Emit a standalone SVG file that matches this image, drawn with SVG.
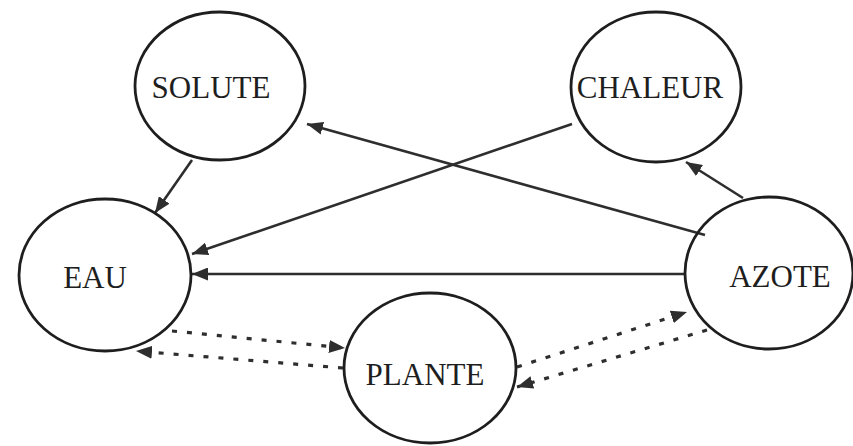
<svg xmlns="http://www.w3.org/2000/svg" width="853" height="446" viewBox="0 0 853 446">
<style>
.node ellipse{fill:none;stroke:#1e1e1e;stroke-width:2.8}
.node text{font-family:"Liberation Serif","Times New Roman",serif;font-size:31px;fill:#1e1e1e;text-anchor:middle}
.edge{fill:none;stroke:#2e2e2e;stroke-width:2.6}
.dot{fill:none;stroke:#2e2e2e;stroke-width:3.2;stroke-dasharray:5 10}
</style>
<defs>
<marker id="ah" markerUnits="userSpaceOnUse" markerWidth="17" markerHeight="13" refX="16" refY="6.5" orient="auto">
<path d="M0,0 L16,6.5 L0,13 z" fill="#2e2e2e"/>
</marker>
</defs>
<rect width="853" height="446" fill="#fff"/>
<g id="connectors">
<line class="edge" x1="192" y1="160" x2="155" y2="213" marker-end="url(#ah)"/>
<line class="edge" x1="572" y1="124" x2="192" y2="254" marker-end="url(#ah)"/>
<line class="edge" x1="705" y1="235" x2="307" y2="124" marker-end="url(#ah)"/>
<line class="edge" x1="743" y1="198" x2="686" y2="162" marker-end="url(#ah)"/>
<line class="edge" x1="685" y1="274" x2="192" y2="274" marker-end="url(#ah)"/>
<line class="dot" x1="172" y1="331" x2="345" y2="348" marker-end="url(#ah)"/>
<line class="dot" x1="343" y1="368" x2="136" y2="351" marker-end="url(#ah)"/>
<line class="dot" x1="517" y1="367" x2="687" y2="312" marker-end="url(#ah)"/>
<line class="dot" x1="707" y1="330" x2="517" y2="387" marker-end="url(#ah)"/>
</g>
<g id="solute" class="node">
<ellipse cx="220" cy="86" rx="85" ry="74"/>
<text x="211" y="98">SOLUTE</text>
</g>
<g id="chaleur" class="node">
<ellipse cx="656" cy="87" rx="85" ry="75"/>
<text x="650" y="98">CHALEUR</text>
</g>
<g id="eau" class="node">
<ellipse cx="105" cy="275" rx="86" ry="76"/>
<text x="95" y="288">EAU</text>
</g>
<g id="azote" class="node">
<ellipse cx="769" cy="273" rx="84" ry="76"/>
<text x="780" y="287">AZOTE</text>
</g>
<g id="plante" class="node">
<ellipse cx="430" cy="368" rx="86" ry="75"/>
<text x="425" y="385">PLANTE</text>
</g>
</svg>
